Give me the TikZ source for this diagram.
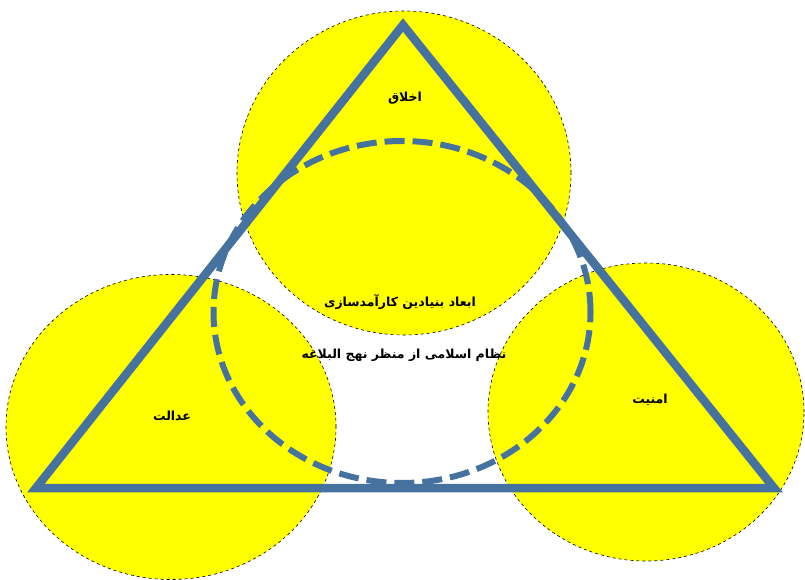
\documentclass[tikz,border=0pt]{standalone}
\usepackage{fontspec}
\usetikzlibrary{shapes.geometric}
\TeXXeTstate=1
\newfontfamily\arabicfont[Script=Arabic]{DejaVu Sans}
\definecolor{tri}{RGB}{70,114,160}
\definecolor{yel}{RGB}{255,255,0}
\tikzset{
  bubble/.style={ellipse, draw=black, dashed, line width=0.6pt, fill=yel, inner sep=0pt},
  lbl/.style={font=\arabicfont\bfseries\fontsize{12.5}{14}\selectfont, inner sep=1pt},
  triline/.style={draw=tri, line width=8.5pt, line join=miter},
  ring/.style={ellipse, draw=tri, line width=6pt, dash pattern=on 20pt off 8pt, inner sep=0pt}
}
\begin{document}
\begin{tikzpicture}[x=1pt,y=-1pt]
\useasboundingbox (0,0) rectangle (805,580);
% yellow ellipses
\node[bubble, minimum width=334pt, minimum height=324pt] (top) at (404,173) {};
\node[bubble, minimum width=330pt, minimum height=305pt] (left) at (171,427) {};
\node[bubble, minimum width=316pt, minimum height=298pt] (right) at (646,412) {};
% dashed ring
\node[ring, minimum width=377pt, minimum height=342pt] (ring) at (402,312) {};
% triangle
\coordinate (A) at (403,25);
\coordinate (B) at (36,488);
\coordinate (C) at (774,488);
\draw[triline] (A) -- (B) -- (C) -- cycle;
% labels
\node[lbl] (l1) at (405,98) {\beginR اخلاق\endR};
\node[lbl] (l2) at (400,302) {\beginR ابعاد بنیادین کارآمدسازی\endR};
\node[lbl] (l3) at (404,355) {\beginR نظام اسلامی از منظر نهج البلاغه\endR};
\node[lbl] (l4) at (172,416) {\beginR عدالت\endR};
\node[lbl] (l5) at (650,400) {\beginR امنیت\endR};
\end{tikzpicture}
\end{document}
